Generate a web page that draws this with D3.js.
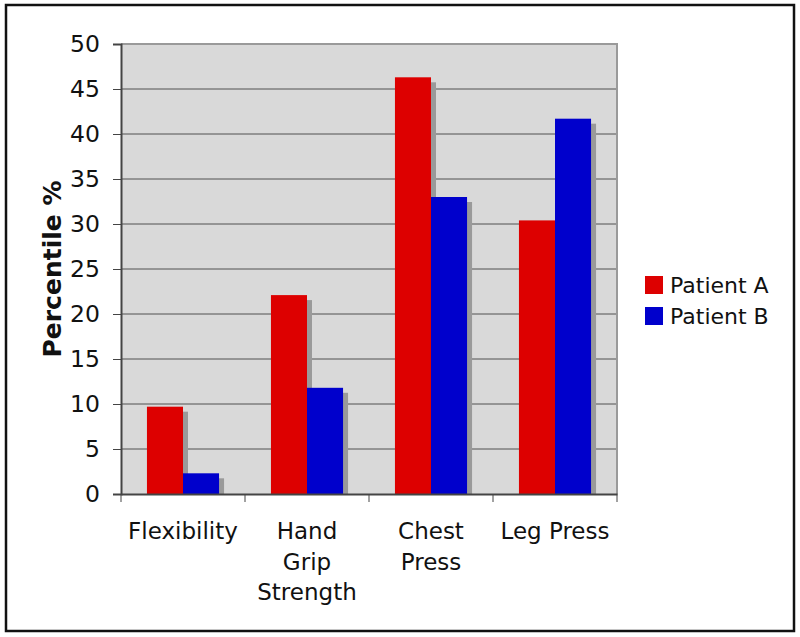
<!DOCTYPE html>
<html>
<head>
<meta charset="utf-8">
<script src="https://cdn.jsdelivr.net/npm/d3@7"></script>
<style>
  body { margin: 0; background: #fff; }
  text { font-family: "DejaVu Sans", Verdana, sans-serif; fill: #111; }
</style>
</head>
<body>
<div id="svg"></div>
<script>
let categories = ['Flexibility', 'Hand Grip Strength', 'Chest Press', 'Leg Press'];
let categoryLines = [['Flexibility'], ['Hand', 'Grip', 'Strength'], ['Chest', 'Press'], ['Leg Press']];
let seriesNames = ['Patient A', 'Patient B'];
let patientA = [9.7, 22.1, 46.3, 30.4];
let patientB = [2.3, 11.8, 33.0, 41.7];
let yTicks = [0, 5, 10, 15, 20, 25, 30, 35, 40, 45, 50];
let colors = ['#dd0000', '#0000cc'];

function makeGraph(){
  let w = 800;
  let h = 637;
  let left = 121, right = 617, top = 44, bottom = 494;

  let svg = d3.select('#svg').append('svg').attr('width', w).attr('height', h);

  // outer frame
  svg.append('rect')
    .attr('x', 6).attr('y', 5)
    .attr('width', 788).attr('height', 626)
    .attr('fill', 'none')
    .attr('stroke', '#111')
    .attr('stroke-width', 2.5);

  let yScale = d3.scaleLinear().domain([0, 50]).range([bottom, top]);
  let xScale = d3.scaleBand().domain(categories).range([left, right]).padding(0);
  let inner = d3.scaleBand().domain(seriesNames)
                .range([0, xScale.bandwidth()])
                .paddingInner(0).paddingOuter(0.72);

  // plot area
  svg.append('rect')
    .attr('x', left).attr('y', top)
    .attr('width', right - left).attr('height', bottom - top)
    .attr('fill', '#d9d9d9');

  // grid lines
  svg.append('g').selectAll('line')
    .data(yTicks.filter(d => d > 0 && d < 50))
    .enter().append('line')
      .attr('x1', left).attr('x2', right)
      .attr('y1', d => yScale(d)).attr('y2', d => yScale(d))
      .attr('stroke', '#505050').attr('stroke-width', 1);

  // plot border top/right
  svg.append('path')
    .attr('d', `M${left},${top}H${right}V${bottom}`)
    .attr('fill', 'none').attr('stroke', '#9a9a9a').attr('stroke-width', 2);

  let rows = categories.map((c, i) => [
    {cat: c, s: seriesNames[0], v: patientA[i], color: colors[0]},
    {cat: c, s: seriesNames[1], v: patientB[i], color: colors[1]}
  ]).flat();

  // shadows
  svg.append('g').selectAll('rect')
    .data(rows)
    .enter().append('rect')
      .attr('x', d => xScale(d.cat) + inner(d.s) + 5)
      .attr('y', d => Math.min(yScale(d.v) + 5, bottom))
      .attr('width', inner.bandwidth())
      .attr('height', d => Math.max(0, bottom - yScale(d.v) - 5))
      .attr('fill', '#9a9a9a');

  // bars
  svg.append('g').selectAll('rect')
    .data(rows)
    .enter().append('rect')
      .attr('x', d => xScale(d.cat) + inner(d.s))
      .attr('y', d => yScale(d.v))
      .attr('width', inner.bandwidth())
      .attr('height', d => bottom - yScale(d.v))
      .attr('fill', d => d.color);

  // y axis
  let yAxis = d3.axisLeft(yScale).tickValues(yTicks).tickSize(8).tickPadding(13);
  let yAxisGroup = svg.append('g')
    .attr('transform', `translate(${left}, 0)`)
    .call(yAxis);
  yAxisGroup.select('.domain').attr('stroke', '#444').attr('stroke-width', 2);
  yAxisGroup.selectAll('.tick line').attr('stroke', '#444').attr('stroke-width', 1);
  yAxisGroup.selectAll('.tick text')
    .attr('font-size', 23.5)
    .attr('font-family', '"DejaVu Sans", Verdana, sans-serif')
    .attr('fill', '#111');

  // x axis
  let xAxis = d3.axisBottom(xScale).tickValues([]).tickSizeOuter(0);
  let xAxisGroup = svg.append('g')
    .attr('transform', `translate(0, ${bottom})`)
    .call(xAxis);
  xAxisGroup.select('.domain').attr('stroke', '#444').attr('stroke-width', 2);

  let bounds = categories.map(c => xScale(c)).concat([right]);
  svg.append('g').selectAll('line')
    .data(bounds)
    .enter().append('line')
      .attr('x1', d => d).attr('x2', d => d)
      .attr('y1', bottom).attr('y2', bottom + 8)
      .attr('stroke', '#444').attr('stroke-width', 1);

  // category labels
  let labels = svg.append('g').selectAll('text')
    .data(categories)
    .enter().append('text')
      .attr('x', d => xScale(d) + xScale.bandwidth() / 2)
      .attr('y', 539)
      .attr('text-anchor', 'middle')
      .attr('font-size', 23);
  labels.each(function(d, i){
    d3.select(this).selectAll('tspan')
      .data(categoryLines[i])
      .enter().append('tspan')
        .attr('x', xScale(d) + xScale.bandwidth() / 2)
        .attr('dy', (t, j) => j === 0 ? 0 : 30.5)
        .text(t => t);
  });

  // y title
  svg.append('text')
    .attr('transform', 'rotate(-90)')
    .attr('x', -269)
    .attr('y', 61)
    .attr('text-anchor', 'middle')
    .attr('font-size', 25)
    .attr('font-weight', 'bold')
    .text('Percentile %');

  // legend
  let legend = svg.append('g').selectAll('g')
    .data(seriesNames)
    .enter().append('g')
      .attr('transform', (d, i) => `translate(645, ${276 + i * 31})`);
  legend.append('rect')
    .attr('width', 18).attr('height', 18)
    .attr('fill', (d, i) => colors[i]);
  legend.append('text')
    .attr('x', 25).attr('y', 17)
    .attr('font-size', 22)
    .text(d => d);
}

window.onload = function(){
  makeGraph();
}
</script>
</body>
</html>
